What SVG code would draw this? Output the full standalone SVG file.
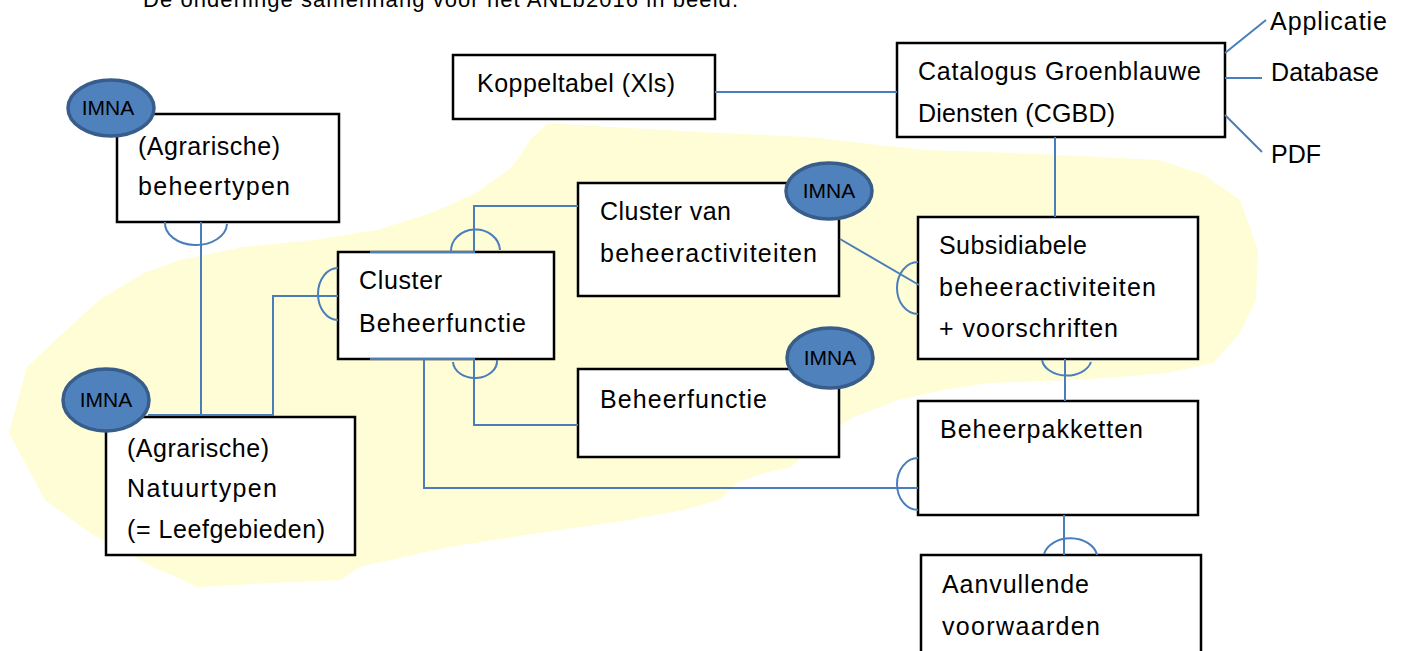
<svg xmlns="http://www.w3.org/2000/svg" width="1402" height="651" viewBox="0 0 1402 651">
<style>
.bg{fill:#fff}
.blob{fill:#fffdd6;stroke:none}
.box{fill:#fff;stroke:#000;stroke-width:2.5}
.c{fill:none;stroke:#4a7ebb;stroke-width:2}
.imna{fill:#4f81bd;stroke:#385d8a;stroke-width:3.5}
.t{font-family:"Liberation Sans",Arial,sans-serif;font-size:25px;fill:#000}
.it{font-family:"Liberation Sans",Arial,sans-serif;font-size:21px;fill:#000;text-anchor:middle}
</style>
<rect class="bg" x="0" y="0" width="1402" height="651"/>
<text class="t" x="143" y="7" style="font-size:22px" textLength="595">De onderlinge samenhang voor het ANLb2016 in beeld.</text>
<path class="blob" d="M548,123 L575,125 L629,128 L719,133 L809,137 L880,145 L925,150 L988,152 L1060,155 L1159,160 L1204,175 L1240,200 L1258,250 L1256,300 L1240,333 L1213,363 L1168,373 L1078,380 L988,383 L943,390 L898,400 L854,417 L827,433 L809,450 L791,467 L764,473 L737,483 L719,500 L683,510 L629,520 L539,533 L449,547 L359,567 L341,580 L270,583 L198,587 L153,567 L90,533 L45,500 L9,433 L27,367 L63,333 L99,300 L144,273 L180,260 L243,247 L314,240 L377,230 L431,213 L476,193 L512,167 L530,140 Z"/>

<g id="koppeltabel"><rect class="box" x="453" y="55" width="262" height="64"/><text class="t" x="477" y="92" textLength="198">Koppeltabel (Xls)</text></g>
<g id="cgbd"><rect class="box" x="897" y="43" width="328" height="94"/><text class="t" x="918" y="80" textLength="283">Catalogus Groenblauwe</text><text class="t" x="918" y="122" textLength="197">Diensten (CGBD)</text></g>
<g id="applicatie"><text class="t" x="1270" y="30" textLength="117">Applicatie</text></g>
<g id="database"><text class="t" x="1271" y="81" textLength="108">Database</text></g>
<g id="pdf"><text class="t" x="1271" y="163">PDF</text></g>
<g id="beheertypen"><rect class="box" x="117" y="114" width="222" height="108"/><text class="t" x="138" y="155" textLength="142">(Agrarische)</text><text class="t" x="138" y="195" textLength="152">beheertypen</text></g>
<g id="natuurtypen"><rect class="box" x="106" y="417" width="249" height="138"/><text class="t" x="127" y="457" textLength="142">(Agrarische)</text><text class="t" x="127" y="497" textLength="150">Natuurtypen</text><text class="t" x="127" y="538" textLength="198">(= Leefgebieden)</text></g>
<g id="cluster-beheerfunctie"><rect class="box" x="338" y="252" width="216" height="107"/><text class="t" x="359" y="289" textLength="83">Cluster</text><text class="t" x="359" y="332" textLength="167">Beheerfunctie</text></g>
<g id="cluster-activiteiten"><rect class="box" x="578" y="183" width="261" height="113"/><text class="t" x="600" y="220" textLength="131">Cluster van</text><text class="t" x="600" y="262" textLength="217">beheeractiviteiten</text></g>
<g id="beheerfunctie"><rect class="box" x="578" y="369" width="261" height="88"/><text class="t" x="600" y="408" textLength="167">Beheerfunctie</text></g>
<g id="subsidiabele"><rect class="box" x="918" y="217" width="280" height="142"/><text class="t" x="939" y="254" textLength="148">Subsidiabele</text><text class="t" x="939" y="296" textLength="217">beheeractiviteiten</text><text class="t" x="939" y="337" textLength="179">+ voorschriften</text></g>
<g id="beheerpakketten"><rect class="box" x="918" y="401" width="280" height="114"/><text class="t" x="940" y="438" textLength="203">Beheerpakketten</text></g>
<g id="aanvullende"><rect class="box" x="921" y="555" width="280" height="110"/><text class="t" x="942" y="593" textLength="147">Aanvullende</text><text class="t" x="942" y="635" textLength="158">voorwaarden</text></g>

<g id="connectors">
<path class="c" d="M715,92 H897"/>
<path class="c" d="M1055,137 V217"/>
<path class="c" d="M1225,53 L1266,20"/>
<path class="c" d="M1225,78 H1262"/>
<path class="c" d="M1225,115 L1262,152"/>
<path class="c" d="M201,222 V415"/>
<path class="c" d="M165,222 A31,22 0 0 0 227,224"/>
<path class="c" d="M148,415 H273 V296 H338"/>
<path class="c" d="M338,268 A20,26 0 0 0 338,320"/>
<path class="c" d="M370,252 H474 V206 H578"/>
<path class="c" d="M451,252 A24,21 0 0 1 500,250"/>
<path class="c" d="M370,359 H474 V425 H578"/>
<path class="c" d="M453,362 A22,17 0 0 0 497,360"/>
<path class="c" d="M424,359 V488 H918"/>
<path class="c" d="M918,458 A21,26 0 0 0 918,510"/>
<path class="c" d="M840,239 L919,285"/>
<path class="c" d="M918,262 A21,26 0 0 0 918,314"/>
<path class="c" d="M1065,359 V401"/>
<path class="c" d="M1042,360 A25,18 0 0 0 1091,362"/>
<path class="c" d="M1064,515 V555"/>
<path class="c" d="M1044,554 A27,20 0 0 1 1097,555"/>
</g>

<g id="imna-beheertypen"><ellipse class="imna" cx="111" cy="108" rx="43" ry="28"/><text class="it" x="108" y="115">IMNA</text></g>
<g id="imna-natuurtypen"><ellipse class="imna" cx="106" cy="400" rx="43" ry="31"/><text class="it" x="106" y="407">IMNA</text></g>
<g id="imna-activiteiten"><ellipse class="imna" cx="829" cy="191" rx="43" ry="28"/><text class="it" x="829" y="198">IMNA</text></g>
<g id="imna-beheerfunctie"><ellipse class="imna" cx="830" cy="358" rx="43" ry="30"/><text class="it" x="830" y="365">IMNA</text></g>
</svg>
